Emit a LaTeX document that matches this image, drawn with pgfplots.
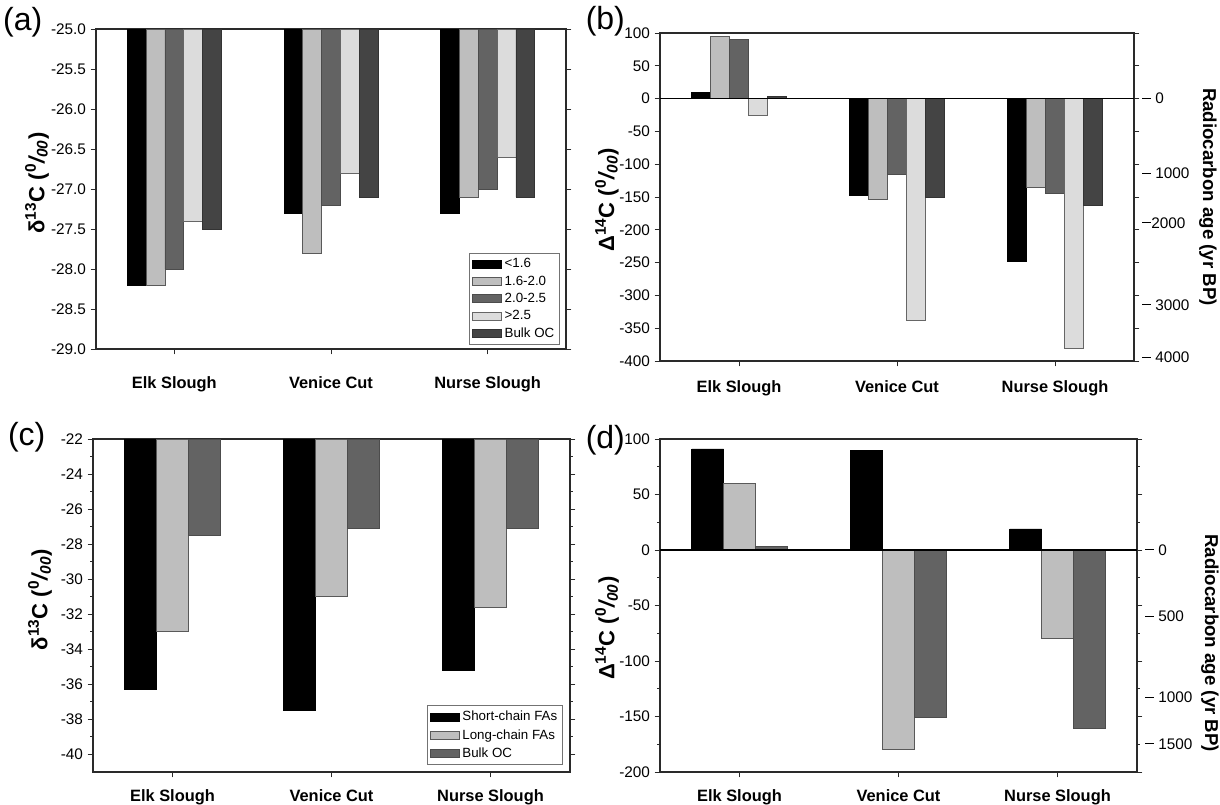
\documentclass[border=0pt]{standalone}
\usepackage{fontspec}
\setmainfont{Liberation Sans}
\usepackage{pgfplots}
\pgfplotsset{compat=1.18}
\definecolor{cA}{HTML}{000000}
\definecolor{cB}{HTML}{BEBEBE}
\definecolor{cC}{HTML}{636363}
\definecolor{cD}{HTML}{DCDCDC}
\definecolor{cE}{HTML}{444444}
\definecolor{axc}{HTML}{2A2A2A}
\newcommand\tickfont{\fontsize{11.5}{13}\selectfont}
\newcommand\catfont{\fontsize{12.3}{14}\selectfont\bfseries}
\newcommand\labfont{\fontsize{16.5}{18}\selectfont\bfseries}
\newcommand\agefont{\fontsize{14}{16}\selectfont\bfseries}
\newcommand\legfont{\fontsize{10}{11.5}\selectfont}
\newcommand\panfont{\fontsize{24}{26}\selectfont}
\newcommand\agetick[1]{\rule[0.33em]{7pt}{0.8pt}\hspace{3pt}#1}
\pgfplotsset{
 base/.style={
  scale only axis, enlargelimits=false, clip=true,
  xmin=-0.5, xmax=2.5, xtick={0,1,2},
  xticklabels={Elk Slough,Venice Cut,Nurse Slough},
  xtick pos=left, ytick pos=both, yticklabel pos=left,
  tick align=outside,
  axis line style={line width=0.9pt, axc},
  tick style={line width=0.7pt, axc},
  major tick length=4pt, minor tick length=2.2pt,
  x tick label style={font=\catfont},
  y tick label style={font=\tickfont},
  ybar,
  legend image code/.code={\draw[##1] (0pt,-3pt) rectangle (22pt,3pt);},
 },
 sA/.style={fill=cA, draw=black, line width=0.5pt},
 sB/.style={fill=cB, draw=black!65, line width=0.5pt},
 sC/.style={fill=cC, draw=black!70, line width=0.5pt},
 sD/.style={fill=cD, draw=black!60, line width=0.5pt},
 sE/.style={fill=cE, draw=black!80, line width=0.5pt},
}
\begin{document}
\begin{tikzpicture}
\useasboundingbox (0,0) rectangle (915pt,-603.75pt);

% ---------------- (a)
\begin{axis}[base, at={(72pt,-261.75pt)}, anchor=south west,
  width=352.5pt, height=240pt,
  ymin=-29, ymax=-25,
  ytick={-29,-28.5,-28,-27.5,-27,-26.5,-26,-25.5,-25},
  yticklabels={-29.0,-28.5,-28.0,-27.5,-27.0,-26.5,-26.0,-25.5,-25.0},
  bar width=0.12,
  x tick label style={yshift=-13pt},
  ylabel={δ\textsuperscript{13}C (\textsuperscript{0}\textit{/\textsubscript{00}})},
  ylabel style={at={(axis description cs:-0.1255,0.519)}, anchor=center, font=\labfont},
  legend style={at={(0.987,0.0125)}, anchor=south east, draw=black!55, font=\legfont,
    cells={anchor=west}, row sep=0.5pt, inner sep=2pt},
]
\addplot[sA, bar shift=-0.24] coordinates {(0,-28.2) (1,-27.3) (2,-27.3)};
\addplot[sB, bar shift=-0.12] coordinates {(0,-28.2) (1,-27.8) (2,-27.1)};
\addplot[sC, bar shift=0] coordinates {(0,-28.0) (1,-27.2) (2,-27.0)};
\addplot[sD, bar shift=0.12] coordinates {(0,-27.4) (1,-26.8) (2,-26.6)};
\addplot[sE, bar shift=0.24] coordinates {(0,-27.5) (1,-27.1) (2,-27.1)};
\legend{<1.6, 1.6-2.0, 2.0-2.5, >2.5, Bulk OC}
\end{axis}

% ---------------- (b)
\begin{axis}[base, at={(495pt,-270.75pt)}, anchor=south west,
  width=355.5pt, height=246pt,
  ymin=-400, ymax=100,
  ytick={-400,-350,-300,-250,-200,-150,-100,-50,0,50,100},
  yticklabels={-400,-350,-300,-250,-200,-150,-100,-50,0,50,100},
  bar width=0.12,
  x tick label style={yshift=-7.5pt},
  ylabel={Δ\textsuperscript{14}C (\textsuperscript{0}\textit{/\textsubscript{00}})},
  ylabel style={at={(axis description cs:-0.112,0.491)}, anchor=center, font=\labfont},
]
\addplot[sA, bar shift=-0.24] coordinates {(0,10) (1,-147) (2,-248)};
\addplot[sB, bar shift=-0.12] coordinates {(0,95) (1,-153) (2,-135)};
\addplot[sC, bar shift=0] coordinates {(0,90) (1,-115) (2,-144)};
\addplot[sD, bar shift=0.12] coordinates {(0,-25) (1,-338) (2,-381)};
\addplot[sE, bar shift=0.24] coordinates {(0,3) (1,-150) (2,-162)};
\addplot[sharp plot, black, line width=0.8pt, forget plot] coordinates {(-0.5,0) (2.5,0)};
\end{axis}
\begin{axis}[at={(495pt,-270.75pt)}, anchor=south west,
  width=355.5pt, height=246pt, scale only axis,
  xmin=-0.5, xmax=2.5, ymin=-400, ymax=100, enlargelimits=false,
  hide x axis, axis y line*=right, axis line style={draw=none},
  major tick length=0pt,
  ytick={0,-114,-190,-315,-395},
  yticklabels={\agetick{0},\agetick{1000},\rule[0.33em]{7pt}{0.8pt}2000,\agetick{3000},\agetick{4000}},
  y tick label style={font=\tickfont, xshift=2.5pt},
  ylabel={Radiocarbon age (yr BP)},
  every axis y label/.style={at={(axis description cs:1.156,0.5)}, anchor=center, rotate=-90, font=\agefont},
]
\addplot[draw=none] coordinates {(0,0)};
\end{axis}

% ---------------- (c)
\begin{axis}[base, at={(69.75pt,-579pt)}, anchor=south west,
  width=357.75pt, height=249.75pt,
  ymin=-41, ymax=-22,
  ytick={-40,-38,-36,-34,-32,-30,-28,-26,-24,-22},
  yticklabels={-40,-38,-36,-34,-32,-30,-28,-26,-24,-22},
  minor y tick num=1,
  bar width=0.2,
  x tick label style={yshift=-5.5pt},
  ylabel={δ\textsuperscript{13}C (\textsuperscript{0}\textit{/\textsubscript{00}})},
  ylabel style={at={(axis description cs:-0.111,0.517)}, anchor=center, font=\labfont},
  legend style={at={(0.985,0.021)}, anchor=south east, draw=black!55, font=\legfont,
    cells={anchor=west}, row sep=1pt, inner sep=2pt},
]
\addplot[sA, bar shift=-0.2] coordinates {(0,-36.3) (1,-37.5) (2,-35.2)};
\addplot[sB, bar shift=0] coordinates {(0,-33.0) (1,-31.0) (2,-31.6)};
\addplot[sC, bar shift=0.2] coordinates {(0,-27.5) (1,-27.1) (2,-27.1)};
\legend{Short-chain FAs, Long-chain FAs, Bulk OC}
\end{axis}

% ---------------- (d)
\begin{axis}[base, at={(495pt,-579pt)}, anchor=south west,
  width=357.75pt, height=249.75pt,
  ymin=-200, ymax=100,
  ytick={-200,-150,-100,-50,0,50,100},
  yticklabels={-200,-150,-100,-50,0,50,100},
  minor y tick num=1,
  bar width=0.2,
  x tick label style={yshift=-5.5pt},
  ylabel={Δ\textsuperscript{14}C (\textsuperscript{0}\textit{/\textsubscript{00}})},
  ylabel style={at={(axis description cs:-0.111,0.432)}, anchor=center, font=\labfont},
]
\addplot[sA, bar shift=-0.2] coordinates {(0,91) (1,90) (2,19)};
\addplot[sB, bar shift=0] coordinates {(0,60) (1,-180) (2,-80)};
\addplot[sC, bar shift=0.2] coordinates {(0,3) (1,-151) (2,-161)};
\addplot[sharp plot, black, line width=0.8pt, forget plot] coordinates {(-0.5,0) (2.5,0)};
\end{axis}
\begin{axis}[at={(495pt,-579pt)}, anchor=south west,
  width=357.75pt, height=249.75pt, scale only axis,
  xmin=-0.5, xmax=2.5, ymin=-200, ymax=100, enlargelimits=false,
  hide x axis, axis y line*=right, axis line style={draw=none},
  major tick length=0pt,
  ytick={0,-60,-133,-175},
  yticklabels={\agetick{0},\agetick{500},\agetick{1000},\agetick{1500}},
  y tick label style={font=\tickfont, xshift=2.5pt},
  ylabel={Radiocarbon age (yr BP)},
  every axis y label/.style={at={(axis description cs:1.153,0.387)}, anchor=center, rotate=-90, font=\agefont},
]
\addplot[draw=none] coordinates {(0,0)};
\end{axis}

\node[font=\panfont] at (17pt,-17pt) {(a)};
\node[font=\panfont] at (454pt,-16pt) {(b)};
\node[font=\panfont] at (20pt,-328pt) {(c)};
\node[font=\panfont] at (454pt,-330pt) {(d)};
\end{tikzpicture}
\end{document}
